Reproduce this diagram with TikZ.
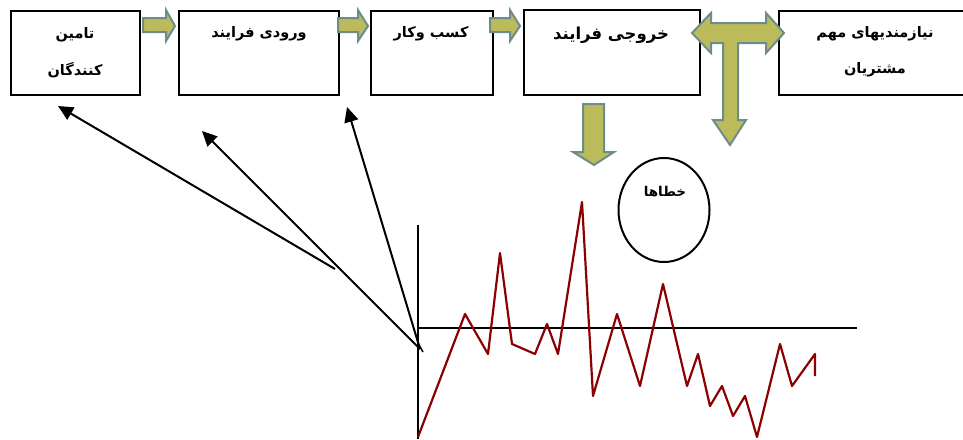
\documentclass[tikz,border=0pt]{standalone}
\usepackage{fontspec}
\newfontfamily\fa[Script=Arabic]{DejaVu Sans}
\TeXXeTstate=1
\usetikzlibrary{arrows.meta,shapes.geometric}
\definecolor{olivefill}{HTML}{BBBB5C}
\definecolor{olivedraw}{HTML}{6E8C8C}
\definecolor{errred}{HTML}{8B0000}
\tikzset{
  box/.style={draw=black, line width=2.2pt, rectangle, inner sep=0pt},
  lab/.style={font=\fa\bfseries\fontsize{14.5}{16}\selectfont, inner sep=0pt},
  blk/.style={fill=olivefill, draw=olivedraw, line width=2pt, line join=miter},
  ptr/.style={draw=black, line width=2pt, -{Triangle[length=15pt,width=14pt]}},
  curve/.style={draw=errred, line width=2.2pt, line join=round}
}
\begin{document}
\begin{tikzpicture}[x=1pt,y=-1pt]
\useasboundingbox (0,0) rectangle (963,439);
% boxes
\node[box, minimum width=129pt, minimum height=84pt, anchor=north west] (b1) at (10,10) {};
\node[box, minimum width=160pt, minimum height=84pt, anchor=north west] (b2) at (178,10) {};
\node[box, minimum width=122pt, minimum height=84pt, anchor=north west] (b3) at (370,10) {};
\node[box, minimum width=176pt, minimum height=85pt, anchor=north west] (b4) at (523,9) {};
\node[box, minimum width=192pt, minimum height=84pt, anchor=north west] (b5) at (778,10) {};
% labels
\node[lab] (t1a) at (75,35) {\beginR تامین\endR};
\node[lab] (t1b) at (75,70) {\beginR کنندگان\endR};
\node[lab] (t2) at (259,34) {\beginR ورودی فرایند\endR};
\node[lab] (t3) at (431,34) {\beginR کسب وکار\endR};
\node[lab, font=\fa\bfseries\fontsize{16.5}{18}\selectfont] (t4) at (611,35) {\beginR خروجی فرایند\endR};
\node[lab] (t5a) at (875,34) {\beginR نیازمندیهای مهم\endR};
\node[lab] (t5b) at (875,70) {\beginR مشتریان\endR};
% block arrows (right)
\draw[blk] (143,18) -- (166,18) -- (166,10) -- (175,26) -- (166,41) -- (166,32) -- (143,32) -- cycle;
\draw[blk] (338,18) -- (358,18) -- (358,10) -- (368,26) -- (358,41) -- (358,32) -- (338,32) -- cycle;
\draw[blk] (490,18) -- (510,18) -- (510,10) -- (520,26) -- (510,41) -- (510,32) -- (490,32) -- cycle;
% double arrow with stem
\draw[blk] (692,33) -- (711,13) -- (711,23) -- (766,23) -- (766,13) -- (784,33) -- (766,53) -- (766,43)
  -- (738,43) -- (738,120) -- (746,120) -- (730,145) -- (713,120) -- (723,120) -- (723,43)
  -- (711,43) -- (711,53) -- cycle;
% down arrow under output box
\draw[blk] (583,104) -- (604,104) -- (604,152) -- (614,152) -- (594,165) -- (573,152) -- (583,152) -- cycle;
% errors ellipse
\node[draw=black, line width=2pt, ellipse, minimum width=91pt, minimum height=104pt, inner sep=0pt] (err) at (664,210) {};
\node[lab, font=\fa\bfseries\fontsize{13.5}{15}\selectfont] (terr) at (665,192) {\beginR خطاها\endR};
% axes
\coordinate (ytop) at (418,225);
\coordinate (ybot) at (418,439);
\coordinate (xl) at (418,328);
\coordinate (xr) at (857,328);
\draw[line width=2pt] (ytop) -- (ybot);
\draw[line width=2pt] (xl) -- (xr);
% pointer arrows
\coordinate (o) at (420,349);
\coordinate (s1) at (335,269);
\coordinate (tipA) at (58,106);
\coordinate (tipB) at (202,131);
\coordinate (tipC) at (347,107);
\draw[ptr] (s1) -- (tipA);
\draw[ptr] (o) -- (tipB);
\draw[ptr] (o) -- (tipC);
\draw[line width=1.5pt] (418,343) -- (423,352);
% error curve
\draw[curve] (418,437) -- (465,314) -- (488,354) -- (500,253) -- (512,344) -- (535,354) -- (547,324) -- (558,354)
  -- (582,202) -- (593,396) -- (617,314) -- (640,386) -- (663,284) -- (687,386) -- (698,354) -- (710,406)
  -- (722,386) -- (733,416) -- (745,396) -- (757,437) -- (780,344) -- (792,386) -- (815,354) -- (815,376);
\end{tikzpicture}
\end{document}
